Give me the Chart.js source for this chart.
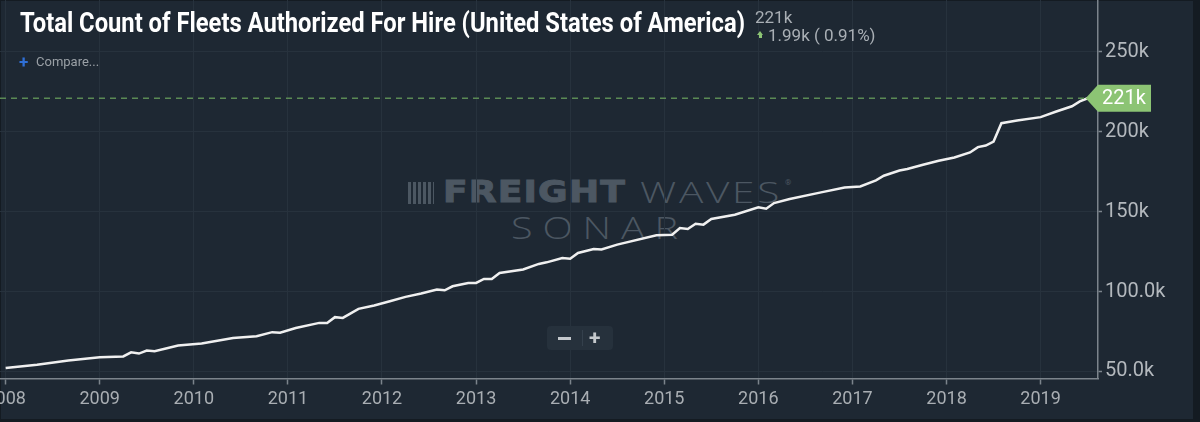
<!DOCTYPE html>
<html><head><meta charset="utf-8">
<script src="https://cdn.jsdelivr.net/npm/chart.js@4.4.0/dist/chart.umd.min.js"></script>
<style>
html,body{margin:0;padding:0;width:1200px;height:422px;overflow:hidden;background:#141b22;}
#panel{position:absolute;left:1px;top:1px;width:1192px;height:418px;background:#1e2833;z-index:0;}
#wrap{position:absolute;left:0;top:0;width:1200px;height:422px;z-index:2;}
.t{position:absolute;white-space:nowrap;transform-origin:0 0;}
.wm{z-index:1;color:#4c5762;}
#title{left:20px;top:10px;font-family:Roboto;font-weight:bold;font-size:27px;line-height:27px;color:#ffffff;z-index:3;}
#last{left:755px;top:7px;font-family:Roboto;font-size:17px;line-height:20px;color:#a9afb5;z-index:3;}
#chg{left:768px;top:25px;font-family:Roboto;font-size:17px;line-height:20px;color:#a9afb5;z-index:3;}
#arrow{position:absolute;left:757px;top:31px;width:0;height:0;border-left:3.5px solid transparent;border-right:3.5px solid transparent;border-bottom:4px solid #8cc474;z-index:3;}
#arrowStem{position:absolute;left:759px;top:35px;width:3px;height:3px;background:#8cc474;z-index:3;}
#plus{left:19px;top:52px;font-family:Roboto;font-weight:bold;font-size:17px;line-height:20px;color:#2f6fd6;z-index:3;}
#compare{left:36px;top:54px;font-family:Roboto;font-size:13px;line-height:16px;color:#9aa0a6;z-index:3;}
#icon{position:absolute;left:408px;top:182px;width:26px;height:22px;z-index:1;
  background:repeating-linear-gradient(90deg,#4c5762 0 3px,transparent 3px 5px);}
#fw1{left:443px;top:175px;font-family:"DejaVu Sans";font-weight:bold;font-size:31px;line-height:32px;letter-spacing:1px;-webkit-text-stroke:1px #4c5762;}
#fw2{left:640px;top:176px;font-family:"Open Sans";font-weight:300;font-size:30px;line-height:32px;letter-spacing:2px;}
#reg{left:785px;top:179px;font-family:Roboto;font-size:8px;line-height:8px;}
#sonar{left:511px;top:209px;font-family:"Open Sans";font-weight:300;font-size:32px;line-height:36px;letter-spacing:8px;}
#zoomBox{position:absolute;left:547px;top:326px;width:66px;height:24px;background:#26313c;border-radius:4px;z-index:3;}
#zm{position:absolute;left:11px;top:10.5px;width:13px;height:3px;background:#c4c8cc;}
#zp{position:absolute;left:42px;top:0;font-family:Roboto;font-weight:bold;font-size:21px;line-height:24px;color:#c4c8cc;}
#zsep{position:absolute;left:35px;top:4px;width:1px;height:16px;background:#34404c;}
</style></head>
<body>
<div id="panel"></div>
<div id="icon"></div>
<div class="t wm" id="fw1">FREIGHT</div>
<div class="t wm" id="fw2">WAVES</div>
<div class="t wm" id="reg">®</div>
<div class="t wm" id="sonar">SONAR</div>
<div id="wrap"><canvas id="c"></canvas></div>
<div class="t" id="title">Total Count of Fleets Authorized For Hire (United States of America)</div>
<div class="t" id="last"></div>
<div id="arrow"></div><div id="arrowStem"></div>
<div class="t" id="chg"></div>
<div class="t" id="plus">+</div>
<div class="t" id="compare">Compare...</div>
<div id="zoomBox"><span id="zm"></span><span id="zsep"></span><span id="zp">+</span></div>
<script>
// ---- data (values in thousands) ----
const months = ["2008-01","2008-05","2008-09","2009-01","2009-04","2009-05","2009-06","2009-07","2009-08","2009-11",
"2010-02","2010-06","2010-09","2010-11","2010-12","2011-02","2011-05","2011-06","2011-07","2011-08","2011-10","2011-12",
"2012-02","2012-04","2012-06","2012-08","2012-09","2012-10","2012-12","2013-01","2013-02","2013-03","2013-04","2013-07",
"2013-09","2013-10","2013-12","2014-01","2014-02","2014-04","2014-05","2014-07","2014-12","2015-02","2015-03","2015-04",
"2015-05","2015-06","2015-07","2015-10","2016-01","2016-02","2016-03","2016-05","2016-09","2016-12","2017-02","2017-04",
"2017-05","2017-07","2017-08","2017-10","2017-12","2018-02","2018-04","2018-05","2018-06","2018-07","2018-08","2018-10",
"2019-01","2019-03","2019-05","2019-06","2019-07"];
const fleets = [52.1,54.2,56.9,58.9,59.4,62.0,61.2,63.1,62.7,66.2,
67.5,71.0,72.0,74.6,74.2,77.2,80.4,80.4,84.0,83.5,89.2,91.3,
94.0,96.7,98.8,101.3,100.8,103.3,105.4,105.4,107.9,107.9,111.7,113.8,
117.3,118.3,121.0,120.6,124.2,126.7,126.3,129.4,135.2,135.6,139.8,139.2,
142.5,141.9,145.4,148.1,152.7,151.9,155.4,157.9,162.1,165.2,165.8,169.6,
172.5,175.8,176.7,179.4,181.9,183.9,187.1,190.4,191.4,193.9,205.4,207.1,
209.2,212.7,216.0,219.01,221.0];
const xTickValues = [2008,2009,2010,2011,2012,2013,2014,2015,2016,2017,2018,2019];
const xTickLabels = ["2008","2009","2010","2011","2012","2013","2014","2015","2016","2017","2018","2019"];
const yTickValues = [50,100,150,200,250];
const yTickLabels = ["50.0k","100.0k","150k","200k","250k"];

const toYear = s => { const [y,m] = s.split("-").map(Number); return y + (m-1)/12; };
const points = months.map((m,i) => ({x: toYear(m), y: fleets[i]}));
const lastV = fleets[fleets.length-1], prevV = fleets[fleets.length-2];
const lastLabel = Math.round(lastV) + "k";
document.getElementById("last").textContent = lastLabel;
document.getElementById("chg").textContent = (lastV-prevV).toFixed(2) + "k ( " + ((lastV-prevV)/prevV*100).toFixed(2) + "%)";

const AX = '#7c848c', GRID = '#27323d';

const tagPlugin = {
  id: 'lastTag',
  afterDraw(chart){
    const {ctx, chartArea, scales:{x, y}} = chart;
    const py = y.getPixelForValue(lastV);
    const tipX = x.getPixelForValue(points[points.length-1].x);
    ctx.save();
    ctx.setLineDash([6,5]);
    ctx.strokeStyle = '#5b8a55'; ctx.lineWidth = 1.3;
    ctx.beginPath(); ctx.moveTo(chartArea.left, py); ctx.lineTo(tipX, py); ctx.stroke();
    ctx.setLineDash([]);
    const bx = chartArea.right, h = 13.5;
    ctx.fillStyle = '#8cc474';
    ctx.beginPath();
    ctx.moveTo(tipX - 2, py); ctx.lineTo(bx, py - h); ctx.lineTo(bx + 53, py - h);
    ctx.lineTo(bx + 53, py + h); ctx.lineTo(bx, py + h); ctx.closePath(); ctx.fill();
    ctx.fillStyle = '#ffffff'; ctx.font = '20px Roboto';
    ctx.textBaseline = 'middle'; ctx.textAlign = 'left';
    ctx.fillText(lastLabel, bx + 4, py + 1);
    ctx.restore();
  }
};

new Chart(document.getElementById('c'), {
  type: 'line',
  data: { datasets: [{ data: points, borderColor: '#f0f0f0', borderWidth: 2.5, pointRadius: 0, tension: 0, fill: false }] },
  options: {
    responsive: true, maintainAspectRatio: false, animation: false, devicePixelRatio: 1,
    layout: { padding: 0 },
    plugins: { legend: { display: false }, tooltip: { enabled: false } },
    scales: {
      x: {
        type: 'linear', position: 'bottom', min: 2007.94, max: 2019.61,
        afterBuildTicks: s => { s.ticks = xTickValues.map(v => ({value: v})); },
        afterFit: s => { s.height = 43.5; s.paddingLeft = 0; s.paddingRight = 0; },
        ticks: { autoSkip: false, maxRotation: 0, padding: 4, color: '#a9aeb3', font: { family: 'Roboto', size: 18 },
          callback: (v) => xTickLabels[xTickValues.indexOf(v)] },
        grid: { color: GRID, lineWidth: 1, tickLength: 6, tickColor: AX, tickWidth: 1.5 },
        border: { color: AX, width: 1.5 }
      },
      y: {
        type: 'linear', position: 'right', min: 45.6, max: 282.5,
        afterBuildTicks: s => { s.ticks = yTickValues.map(v => ({value: v})); },
        afterFit: s => { s.width = 102; s.paddingTop = 0; s.paddingBottom = 0; },
        ticks: { padding: 3, color: '#b3b8bd', font: { family: 'Roboto', size: 20 },
          callback: (v) => yTickLabels[yTickValues.indexOf(v)] },
        grid: { color: GRID, lineWidth: 1, tickLength: 4, tickColor: AX, tickWidth: 1.5 },
        border: { color: AX, width: 1.5 }
      }
    }
  },
  plugins: [tagPlugin]
});

function fitW(id, w){
  const el = document.getElementById(id);
  el.style.transform = 'none';
  const cw = el.getBoundingClientRect().width;
  if (cw > 0) el.style.transform = 'scaleX(' + (w / cw) + ')';
}
fitW('title', 725);
fitW('fw1', 183);
fitW('fw2', 142);
fitW('sonar', 177);
</script>
</body></html>
